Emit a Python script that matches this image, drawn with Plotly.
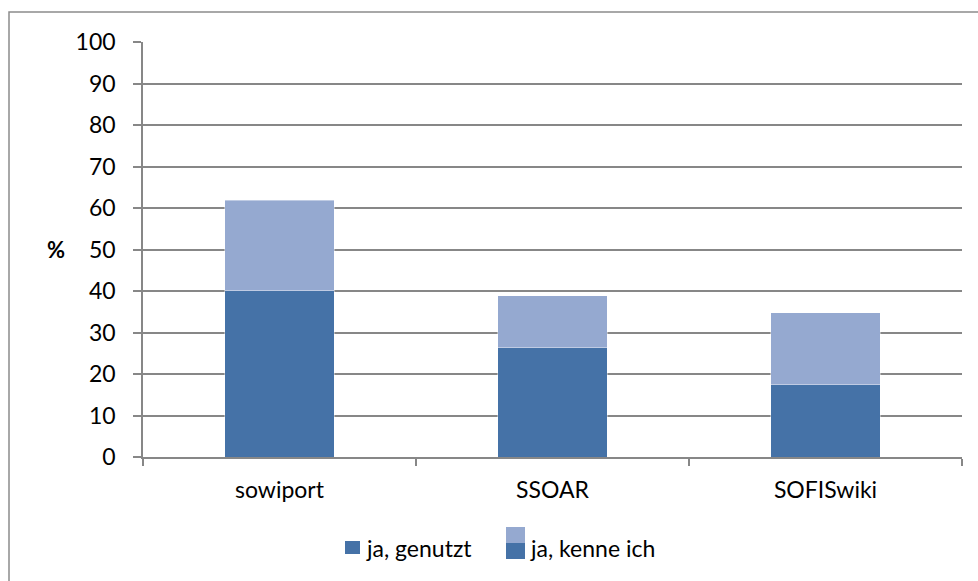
import plotly.graph_objects as go

categories = ["sowiport", "SSOAR", "SOFISwiki"]
genutzt = [40.1, 26.3, 17.4]
kenne_ich = [21.8, 12.6, 17.4]
y_ticks = [0, 10, 20, 30, 40, 50, 60, 70, 80, 90, 100]

DARK = "#4572A7"
LIGHT = "#95A9D0"
GRID = "#878787"
FONT = "Lato"
FS = 23

fig = go.Figure()
fig.add_trace(go.Bar(x=categories, y=genutzt, name="ja, genutzt",
                     marker=dict(color=DARK, line=dict(color="rgba(255,255,255,0.5)", width=0.8))))
fig.add_trace(go.Bar(x=categories, y=kenne_ich, name="ja, kenne ich",
                     marker=dict(color=LIGHT, line=dict(color="rgba(255,255,255,0.5)", width=0.8))))

L, R, T, B = 143, 16, 42, 124
W, H = 978, 581
pw, ph = W - L - R, H - T - B

def px(x):
    return (x - L) / pw

def py(y):
    return (H - B - y) / ph

shapes = [
    # outer chart frame
    dict(type="rect", xref="paper", yref="paper", x0=px(9), x1=px(990), y0=py(12), y1=py(600),
         line=dict(color="#8c8c8c", width=1.5), fillcolor="rgba(0,0,0,0)", layer="below"),
    # legend swatches
    dict(type="rect", xref="paper", yref="paper", x0=px(345), x1=px(360), y0=py(554), y1=py(541),
         line=dict(width=0), fillcolor=DARK),
    dict(type="rect", xref="paper", yref="paper", x0=px(506), x1=px(525), y0=py(543), y1=py(527),
         line=dict(width=0), fillcolor=LIGHT),
    dict(type="rect", xref="paper", yref="paper", x0=px(506), x1=px(525), y0=py(559), y1=py(543),
         line=dict(width=0), fillcolor=DARK),
]

annotations = [
    dict(text="<b>%</b>", xref="paper", yref="paper", x=px(56), y=py(250), showarrow=False,
         font=dict(family=FONT, size=FS - 1, color="black"), xanchor="center", yanchor="middle"),
    dict(text="ja, genutzt", xref="paper", yref="paper", x=px(364), y=py(548), showarrow=False,
         font=dict(family=FONT, size=FS, color="black"), xanchor="left", yanchor="middle"),
    dict(text="ja, kenne ich", xref="paper", yref="paper", x=px(528), y=py(548), showarrow=False,
         font=dict(family=FONT, size=FS, color="black"), xanchor="left", yanchor="middle"),
]

fig.update_layout(
    barmode="stack",
    bargap=0.6,
    width=W, height=H,
    margin=dict(l=L, r=R, t=T, b=B, pad=0),
    paper_bgcolor="white", plot_bgcolor="white",
    showlegend=False,
    font=dict(family=FONT, size=FS, color="black"),
    shapes=shapes,
    annotations=annotations,
    xaxis=dict(showline=True, linecolor=GRID, linewidth=1.5, ticks="outside", tickson="boundaries",
               ticklen=7, tickcolor=GRID, tickwidth=1.5, showgrid=False,
               tickfont=dict(family=FONT, size=FS, color="black"), ticklabelstandoff=12),
    yaxis=dict(range=[0, 100], tickvals=y_ticks, showline=True, linecolor=GRID, linewidth=1.5,
               ticks="outside", ticklen=8, tickcolor=GRID, tickwidth=1.5,
               showgrid=True, gridcolor=GRID, gridwidth=1.5, zeroline=False,
               tickfont=dict(family=FONT, size=FS, color="black"), ticklabelstandoff=13),
)

fig.write_html("out.html", config={"displayModeBar": False},
               post_script="document.body.style.margin='0';document.body.style.overflow='hidden';")
